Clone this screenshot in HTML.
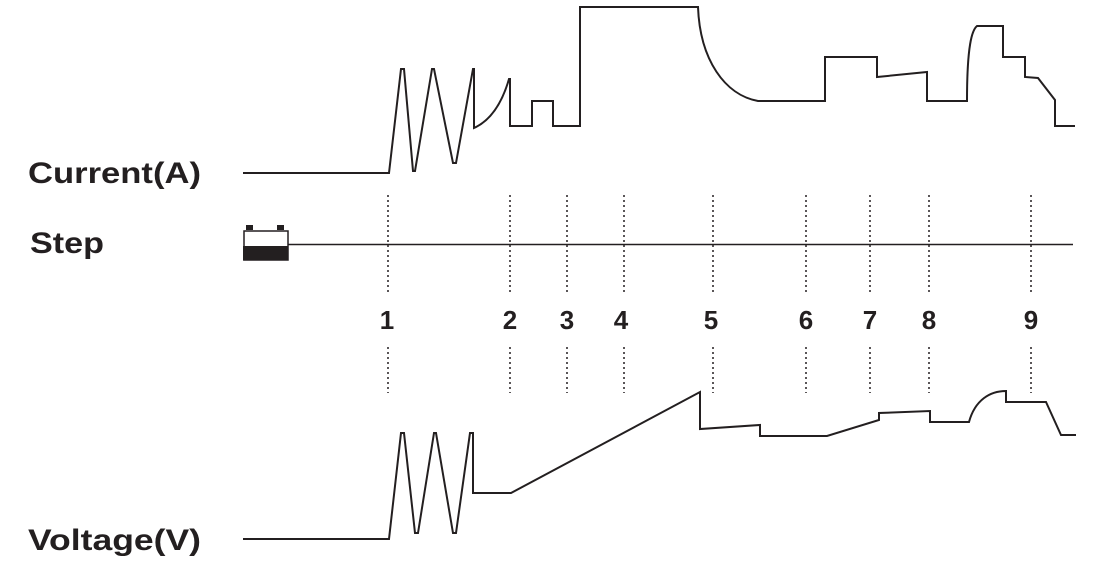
<!DOCTYPE html>
<html><head><meta charset="utf-8"><style>
html,body{margin:0;padding:0;background:#fff;}
svg{display:block;}
text{font-family:"Liberation Sans",Arial,sans-serif;font-weight:bold;fill:#231f20;}
</style></head><body>
<svg width="1101" height="572" viewBox="0 0 1101 572" xmlns="http://www.w3.org/2000/svg">
<g fill="none" stroke="#231f20" stroke-width="2" stroke-linejoin="miter">
<path d="M243,173 L389,173 L401,69 L404,69 L413,171 L415,171 L432,69 L434,69 L453,163 L456,163 L473,69 L474,69 L474,128 Q498,117 509,79 L510,79 L510,126 L532,126 L532,101 L553,101 L553,126 L580,126 L580,7 L698,7 C700,60 725,95 758,101 L825,101 L825,57 L877,57 L877,77 L927,72 L927,101 L967,101 C967,45 972,30 977,26 L1003,26 L1003,57 L1025,57 L1025,77 L1038,78 L1055,100 L1055,126 L1075,126"/>
<path d="M243,539 L389,539 L401,433 L404,433 L415,533 L418,533 L434,433 L436,433 L453,533 L456,533 L470,433 L473,433 L473,493 L511,493 L700,392 L700,429 L760,425 L760,436 L827,436 L879,420 L879,413 L930,411 L930,422 L969,422 C975,400 990,391 1006,391 L1006,402 L1046,402 L1061,435 L1076,435"/>
</g>
<line x1="288" y1="244.5" x2="1073" y2="244.5" stroke="#231f20" stroke-width="1.5"/>
<g stroke="#231f20" stroke-width="1.5" stroke-dasharray="2,3">
<path d="M388,195V292M510,195V292M567,195V292M624,195V292M713,195V292M806,195V292M870,195V292M929,195V292M1031,195V292"/>
<path d="M388,347V393M510,347V393M567,347V393M624,347V393M713,347V393M806,347V393M870,347V393M929,347V393M1031,347V393"/>
</g>
<rect x="244" y="231" width="44" height="29" fill="#fff" stroke="#231f20" stroke-width="1.5"/>
<rect x="243" y="246" width="45" height="14.5" fill="#231f20"/>
<rect x="246" y="225" width="7" height="5" fill="#231f20"/>
<rect x="277" y="225" width="7" height="5" fill="#231f20"/>
<text x="28" y="183" font-size="30" textLength="173" lengthAdjust="spacingAndGlyphs">Current(A)</text>
<text x="30" y="253" font-size="30" textLength="74" lengthAdjust="spacingAndGlyphs">Step</text>
<text x="28" y="550" font-size="30" textLength="173" lengthAdjust="spacingAndGlyphs">Voltage(V)</text>
<g font-size="26" text-anchor="middle">
<text x="387" y="329">1</text><text x="510" y="329">2</text><text x="567" y="329">3</text><text x="621" y="329">4</text><text x="711" y="329">5</text><text x="806" y="329">6</text><text x="870" y="329">7</text><text x="929" y="329">8</text><text x="1031" y="329">9</text>
</g>
</svg>
</body></html>
